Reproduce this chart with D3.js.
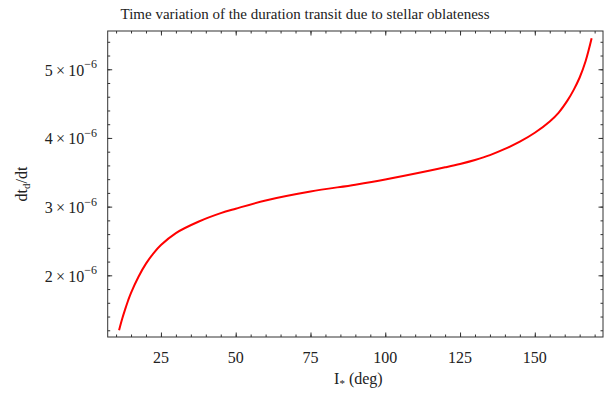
<!DOCTYPE html>
<html>
<head>
<meta charset="utf-8">
<script src="https://cdn.jsdelivr.net/npm/d3@7"></script>
<style>
  body { margin: 0; background: #fff; }
  svg { display: block; font-family: "Liberation Serif", "DejaVu Serif", serif; }
</style>
</head>
<body>
<div id="chart"></div>
<script>
'use strict';

// inclination of the stellar spin axis (deg)
var inclination = [11, 12, 13, 14, 15, 17.5, 20, 22.5, 25, 30, 37.5, 45, 50, 60, 75,
                   90, 100, 115, 120, 125, 130, 135, 140, 145, 150, 155, 158, 161, 163,
                   165, 167, 169];
// dt_d/dt
var durationRate = [1.20e-6, 1.36e-6, 1.50e-6, 1.63e-6, 1.745e-6, 1.98e-6, 2.17e-6,
                    2.32e-6, 2.44e-6, 2.615e-6, 2.78e-6, 2.905e-6, 2.97e-6, 3.09e-6,
                    3.22e-6, 3.32e-6, 3.395e-6, 3.525e-6, 3.572e-6, 3.622e-6, 3.68e-6,
                    3.75e-6, 3.84e-6, 3.945e-6, 4.075e-6, 4.24e-6, 4.37e-6, 4.55e-6,
                    4.70e-6, 4.88e-6, 5.12e-6, 5.45e-6];

var xTicks = [25, 50, 75, 100, 125, 150];
var xMinor = d3.range(10, 171, 5);
var yTicks = [2e-6, 3e-6, 4e-6, 5e-6];
var yTickMantissa = ['2', '3', '4', '5'];
var yMinor = d3.range(12, 55, 2).map(function(v) { return v * 1e-7; });

var width = 609, height = 395;
var plot = {left: 107.7, right: 603, top: 31, bottom: 337};
var frameColor = '#333';

var svg = d3.select('#chart').append('svg')
    .attr('width', width)
    .attr('height', height);

var x = d3.scaleLinear().domain([7.2, 172.8]).range([plot.left, plot.right]);
var y = d3.scaleLinear().domain([1.102e-6, 5.557e-6]).range([plot.bottom, plot.top]);

// ticks on all four sides, pointing inward
function drawTicks(axisFn, scale, values, size, transform) {
    var g = svg.append('g')
        .attr('transform', transform)
        .call(axisFn(scale).tickValues(values).tickSize(size).tickFormat(''));
    g.select('.domain').remove();
    g.selectAll('line').attr('stroke', frameColor).attr('stroke-width', 1);
}
drawTicks(d3.axisBottom, x, xMinor, -2.5, 'translate(0,' + plot.bottom + ')');
drawTicks(d3.axisBottom, x, xTicks, -4.5, 'translate(0,' + plot.bottom + ')');
drawTicks(d3.axisTop, x, xMinor, -2.5, 'translate(0,' + plot.top + ')');
drawTicks(d3.axisTop, x, xTicks, -4.5, 'translate(0,' + plot.top + ')');
drawTicks(d3.axisLeft, y, yMinor, -2.5, 'translate(' + plot.left + ',0)');
drawTicks(d3.axisLeft, y, yTicks, -4.5, 'translate(' + plot.left + ',0)');
drawTicks(d3.axisRight, y, yMinor, -2.5, 'translate(' + plot.right + ',0)');
drawTicks(d3.axisRight, y, yTicks, -4.5, 'translate(' + plot.right + ',0)');

// frame
svg.append('rect')
    .attr('x', plot.left)
    .attr('y', plot.top)
    .attr('width', plot.right - plot.left)
    .attr('height', plot.bottom - plot.top)
    .attr('fill', 'none')
    .attr('stroke', frameColor)
    .attr('stroke-width', 1);

// x tick labels
svg.append('g').selectAll('text')
    .data(xTicks)
    .enter().append('text')
    .attr('x', function(d) { return x(d); })
    .attr('y', 362.5)
    .attr('text-anchor', 'middle')
    .attr('font-size', 16)
    .attr('fill', '#222')
    .text(function(d) { return d; });

// y tick labels  m×10^-6
var yl = svg.append('g').selectAll('text')
    .data(yTicks)
    .enter().append('text')
    .attr('x', 97)
    .attr('y', function(d) { return y(d) + 6.5; })
    .attr('text-anchor', 'end')
    .attr('font-size', 16)
    .attr('fill', '#222');
yl.append('tspan').text(function(d, i) { return yTickMantissa[i] + '\u2009\u00d7\u200910'; });
yl.append('tspan')
    .attr('font-size', 12)
    .attr('dy', -7.5)
    .text('\u22126');

// curve
var line = d3.line()
    .x(function(d, i) { return x(inclination[i]); })
    .y(function(d) { return y(d); })
    .curve(d3.curveCatmullRom.alpha(0.5));

svg.append('path')
    .datum(durationRate)
    .attr('d', line)
    .attr('fill', 'none')
    .attr('stroke', '#ff0000')
    .attr('stroke-width', 2);

// title
svg.append('text')
    .attr('x', 305)
    .attr('y', 19)
    .attr('text-anchor', 'middle')
    .attr('font-size', 15)
    .attr('fill', '#222')
    .text('Time variation of the duration transit due to stellar oblateness');

// x label
var xl = svg.append('text')
    .attr('x', (plot.left + plot.right) / 2 + 3)
    .attr('y', 384)
    .attr('text-anchor', 'middle')
    .attr('font-size', 16)
    .attr('fill', '#222');
xl.append('tspan').text('I');
xl.append('tspan').attr('font-size', 11).attr('dy', 3).text('*');
xl.append('tspan').attr('dy', -3).text(' (deg)');

// y label
var ylab = svg.append('text')
    .attr('transform', 'translate(27,' + ((plot.top + plot.bottom) / 2) + ') rotate(-90)')
    .attr('text-anchor', 'middle')
    .attr('font-size', 16)
    .attr('fill', '#222');
ylab.append('tspan').text('dt');
ylab.append('tspan').attr('font-size', 11).attr('dy', 3).text('d');
ylab.append('tspan').attr('dy', -3).text('/dt');
</script>
</body>
</html>
